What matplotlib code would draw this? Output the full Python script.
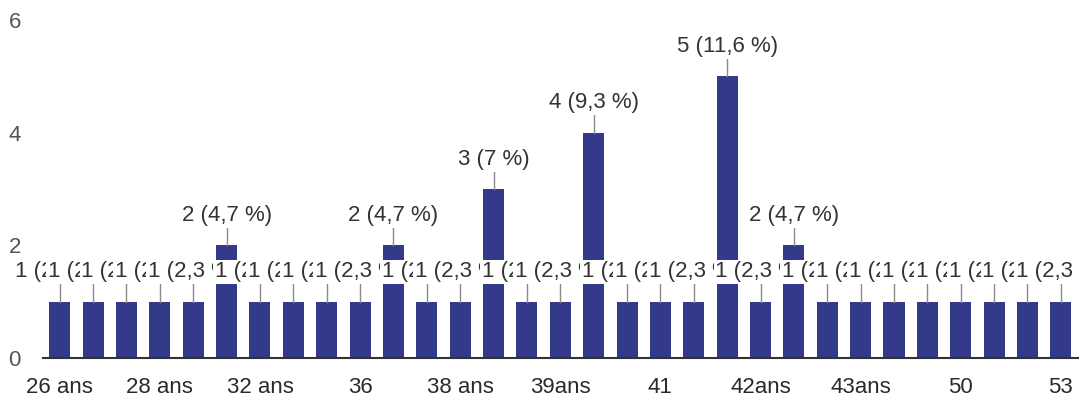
import matplotlib
matplotlib.use("Agg")
import matplotlib.pyplot as plt
from matplotlib.transforms import Bbox, TransformedBbox, IdentityTransform
import numpy as np

# answers per age (every third category is named on the axis)
counts = [1, 1, 1, 1, 1, 2, 1, 1, 1, 1, 2, 1, 1, 3, 1, 1, 4, 1, 1, 1,
          5, 1, 2, 1, 1, 1, 1, 1, 1, 1, 1]
tick_labels = ["26 ans", "28 ans", "32 ans", "36", "38 ans", "39ans",
               "41", "42ans", "43ans", "50", "53"]
y_ticks = [0, 2, 4, 6]

plt.rcParams['font.family'] = ['Liberation Sans', 'DejaVu Sans']

total = sum(counts)

def label_for(n):
    pct = round(100.0 * n / total, 1)
    s = ('%.1f' % pct).rstrip('0').rstrip('.').replace('.', ',')
    return '%d (%s %%)' % (n, s)

fig = plt.figure(figsize=(10.81, 4.01), dpi=100)
ax = fig.add_axes([0.0398, 0.1072, 0.957, 0.843])

x = np.arange(len(counts))
barcol = '#343a8a'
ax.bar(x, counts, width=0.63, color=barcol, zorder=2)

# labels may run left of the plot, but are cut at the right edge like the original
clip = TransformedBbox(Bbox.from_extents(0, 0, 1072, 401), IdentityTransform())

# leader lines + labels, drawn left to right so each white box hides the previous text
for i, n in enumerate(counts):
    ax.plot([i, i], [n, n + 0.33], color='#8a8a8a', lw=1.0, zorder=3)
    t = ax.text(i, n + 0.43, label_for(n), ha='center', va='baseline',
                fontsize=16, color='#333333', zorder=4 + i,
                bbox=dict(boxstyle='square,pad=0.08', fc='white', ec='none'))
    t.set_clip_on(True)
    t.set_clip_box(clip)

ax.set_xlim(-0.5, len(counts) - 0.5)
ax.set_ylim(0, 6)
ax.set_xticks(x[::3])
ax.set_xticklabels(tick_labels)
ax.set_yticks(y_ticks)
ax.tick_params(axis='x', length=0, pad=14, labelsize=16, labelcolor='#2a2a2a')
ax.tick_params(axis='y', length=0, pad=16, labelsize=16, labelcolor='#555555')

for s in ['top', 'right', 'left']:
    ax.spines[s].set_visible(False)
ax.spines['bottom'].set_color('#333333')
ax.spines['bottom'].set_linewidth(1.5)
ax.spines['bottom'].set_zorder(5)

fig.savefig('out.png', dpi=100)
